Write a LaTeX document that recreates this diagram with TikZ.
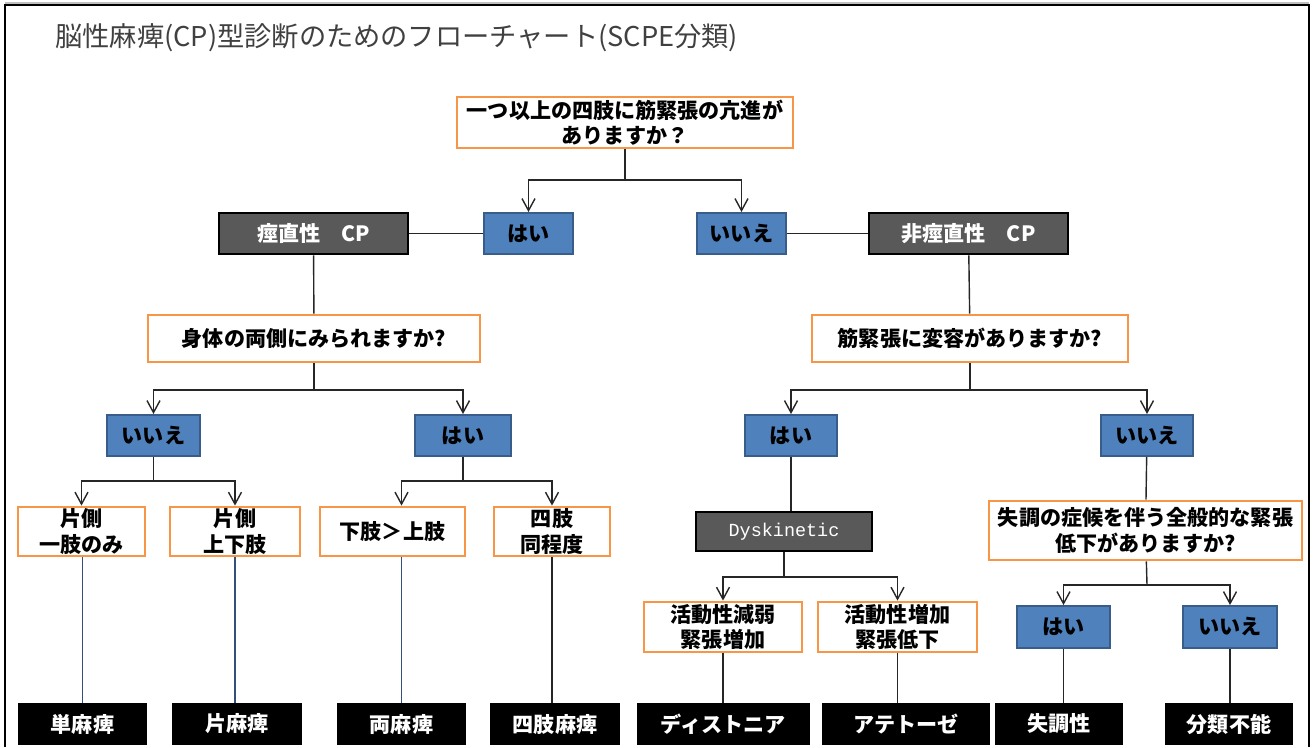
\documentclass[tikz,border=0pt]{standalone}
\usepackage{fontspec}
\setmainfont{Noto Sans CJK JP}
\newfontfamily\monofont{Liberation Mono}
\usepackage{xcolor}
\usetikzlibrary{arrows.meta}
\definecolor{qorange}{HTML}{F79646}
\definecolor{ansblue}{HTML}{4F81BD}
\definecolor{ansedge}{HTML}{385D8A}
\definecolor{typegray}{HTML}{595959}
\definecolor{linkblue}{HTML}{34507A}
\definecolor{titlegray}{HTML}{404040}

\begin{document}
\begin{tikzpicture}[x=0.02cm,y=-0.02cm,
  wh/.style 2 args={minimum width=#1*0.02cm,minimum height=#2*0.02cm}]
\tikzstyle{every node}+=[inner sep=0pt,align=center,font=\fontsize{12}{14.5}\selectfont\bfseries]
\tikzstyle{question}=[draw=qorange,line width=1.6pt,fill=white,text=black]
\tikzstyle{answer}=[draw=ansedge,line width=1.1pt,fill=ansblue,text=black]
\tikzstyle{cptype}=[draw=black,line width=1.6pt,fill=typegray,text=white]
\tikzstyle{result}=[fill=black,text=white]
\tikzstyle{link}=[draw=black!85,line width=0.8pt]
\tikzstyle{linkb}=[draw=linkblue,line width=0.8pt]
\tikzstyle{arr}=[link,-{Straight Barb[length=2.4mm,width=2.6mm]}]
\useasboundingbox (0,0) rectangle (1314,747);
\draw [black!25,line width=1pt] (5,3) -- (1309,3);
\draw [black,line width=1.4pt] (5,747) -- (5,5) -- (1309,5) -- (1309,747);
\node [anchor=west,text=titlegray,font=\fontsize{15.5}{18}\selectfont] (title) at (55,38) {脳性麻痺(CP)型診断のためのフローチャート(SCPE分類)};
\node [question,wh={336}{51}] (top) at (625,122.5) {一つ以上の四肢に筋緊張の亢進が\\ありますか？};
\node [answer,wh={89}{41}] (yes1) at (528.5,233.5) {はい};
\node [answer,wh={89}{41}] (no1) at (741.5,233.5) {いいえ};
\node [cptype,wh={189}{41}] (sp) at (313.5,233.5) {痙直性　CP};
\node [cptype,wh={199}{41}] (nsp) at (968.5,233.5) {非痙直性　CP};
\node [question,wh={332}{47}] (bothq) at (314,338.5) {身体の両側にみられますか?};
\node [question,wh={316}{47}] (toneq) at (970,338.5) {筋緊張に変容がありますか?};
\node [answer,wh={93}{41}] (no2) at (153.5,435.5) {いいえ};
\node [answer,wh={96}{41}] (yes2) at (463,435.5) {はい};
\node [answer,wh={92}{41}] (yes3) at (791,435.5) {はい};
\node [answer,wh={92}{41}] (no3) at (1147,435.5) {いいえ};
\node [question,wh={127}{49}] (limb1) at (81.5,531.5) {片側\\一肢のみ};
\node [question,wh={130}{49}] (limb2) at (235,531.5) {片側\\上下肢};
\node [question,wh={145}{49}] (limb3) at (392.5,531.5) {下肢＞上肢};
\node [question,wh={116}{49}] (limb4) at (552,531.5) {四肢\\同程度};
\node [cptype,wh={176}{39},font=\monofont\fontsize{10.5}{12}\selectfont] (dys) at (784,531.5) {Dyskinetic};
\node [question,wh={313}{59}] (ataxq) at (1145.5,530.5) {失調の症候を伴う全般的な緊張\\低下がありますか?};
\node [question,wh={158}{50}] (dyst) at (723,627) {活動性減弱\\緊張増加};
\node [question,wh={159}{50}] (athe) at (897.5,627) {活動性増加\\緊張低下};
\node [answer,wh={93}{42}] (yes4) at (1063.5,627) {はい};
\node [answer,wh={94}{42}] (no4) at (1230,627) {いいえ};
\node [result,wh={129}{42}] (mono) at (82.5,724) {単麻痺};
\node [result,wh={130}{42}] (hemi) at (237,724) {片麻痺};
\node [result,wh={129}{42}] (dipl) at (401.5,724) {両麻痺};
\node [result,wh={130}{42}] (quad) at (555,724) {四肢麻痺};
\node [result,wh={173}{42}] (dystonia) at (723.5,724) {ディストニア};
\node [result,wh={168}{42}] (athetosis) at (906,724) {アテトーゼ};
\node [result,wh={128}{42}] (ataxic) at (1059,724) {失調性};
\node [result,wh={128}{42}] (unclass) at (1229,724) {分類不能};
\coordinate (s0) at (625,180);
\coordinate (s1) at (314,390);
\coordinate (s2) at (153.5,481);
\coordinate (s3) at (463,481);
\coordinate (s4) at (970,390);
\coordinate (s5) at (784,577);
\coordinate (s6) at (1147,585);
\draw [link] (top) -- (s0);
\draw [arr] (s0) -| (yes1);
\draw [arr] (s0) -| (no1);
\draw [link] (sp) -- (yes1);
\draw [link] (no1) -- (nsp);
\draw [link] (sp) -- (bothq);
\draw [link] (bothq) -- (s1);
\draw [arr] (s1) -| (no2);
\draw [arr] (s1) -| (yes2);
\draw [link] (no2) -- (s2);
\draw [arr] (s2) -| (limb1);
\draw [arr] (s2) -| (limb2);
\draw [link] (yes2) -- (s3);
\draw [arr] (s3) -| (dipl.north |- limb3.north);
\draw [arr] (s3) -| (limb4);
\draw [linkb] (mono.north |- limb1.south) -- (mono.north);
\draw [linkb] (limb2.south) -- (limb2.south |- hemi.north);
\draw [linkb] (dipl.north |- limb3.south) -- (dipl.north);
\draw [link] (limb4.south) -- (limb4.south |- quad.north);
\draw [link] (nsp) -- (toneq);
\draw [link] (toneq) -- (s4);
\draw [arr] (s4) -| (yes3);
\draw [arr] (s4) -| (no3);
\draw [link] (yes3.south) -- (yes3.south |- dys.north);
\draw [link] (dys) -- (s5);
\draw [arr] (s5) -| (dyst);
\draw [arr] (s5) -| (athe);
\draw [link] (dyst.south) -- (dyst.south |- dystonia.north);
\draw [link] (athe.south) -- (athe.south |- athetosis.north);
\draw [link] (no3) -- (ataxq);
\draw [link] (ataxq) -- (s6);
\draw [arr] (s6) -| (yes4);
\draw [arr] (s6) -| (no4);
\draw [link] (yes4.south) -- (yes4.south |- ataxic.north);
\draw [link] (no4.south) -- (no4.south |- unclass.north);
\end{tikzpicture}
\end{document}
